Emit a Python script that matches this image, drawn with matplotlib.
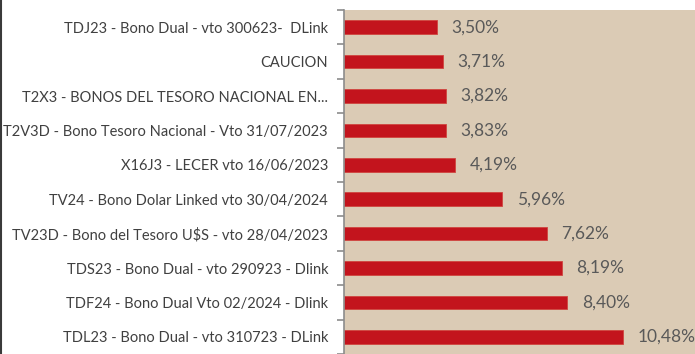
import matplotlib
matplotlib.use("Agg")
import matplotlib.pyplot as plt
import numpy as np

categories = [
    "TDJ23 - Bono Dual - vto 300623-  DLink",
    "CAUCION",
    "T2X3 - BONOS DEL TESORO NACIONAL EN...",
    "T2V3D - Bono Tesoro Nacional - Vto 31/07/2023",
    "X16J3 - LECER vto 16/06/2023",
    "TV24 - Bono Dolar Linked vto 30/04/2024",
    "TV23D - Bono del Tesoro U$S - vto 28/04/2023",
    "TDS23 - Bono Dual - vto 290923 - Dlink",
    "TDF24 - Bono Dual Vto 02/2024 - Dlink",
    "TDL23 - Bono Dual - vto 310723 - DLink",
]
values = [3.50, 3.71, 3.82, 3.83, 4.19, 5.96, 7.62, 8.19, 8.40, 10.48]
value_labels = ["3,50%", "3,71%", "3,82%", "3,83%", "4,19%",
                "5,96%", "7,62%", "8,19%", "8,40%", "10,48%"]

plt.rcParams['font.family'] = ['Lato', 'DejaVu Sans']

W, H = 695, 354
fig = plt.figure(figsize=(W / 100, H / 100), dpi=100)
fig.patch.set_facecolor("white")

ax = fig.add_axes([344 / W, 0, 1 - 344 / W, 1 - 10 / H])
ax.set_facecolor("#DBCBB5")

y = np.arange(len(categories))
ax.barh(y, values, height=0.4, color="#C3141D", edgecolor="#D0453F", linewidth=0.6)

for yi, v, lab in zip(y, values, value_labels):
    ax.text(v + 0.55, yi, lab, va="center", ha="left", fontsize=12.5, color="#595959")

ax.set_xlim(0, 13.2)
ax.set_ylim(len(categories) - 0.5, -0.5)

ax.set_yticks(y)
ax.set_yticklabels(categories, fontsize=10.5, color="#404040")
ax.tick_params(axis="y", which="major", length=0, pad=11.5)
ax.set_yticks(np.arange(-0.5, len(categories) + 0.5, 1), minor=True)
ax.tick_params(axis="y", which="minor", length=5, width=1.2, color="#8C8C8C", direction="out")
ax.set_xticks([])

for s in ["top", "right", "bottom"]:
    ax.spines[s].set_visible(False)
ax.spines["left"].set_color("#8C8C8C")
ax.spines["left"].set_linewidth(1.2)

# dark frame edge on the left of the figure
fig.add_artist(plt.Line2D([0.0015, 0.0015], [0, 1], transform=fig.transFigure,
                          color="#3A3A3A", linewidth=1.5))

fig.savefig("out.png", dpi=100, facecolor="white")
